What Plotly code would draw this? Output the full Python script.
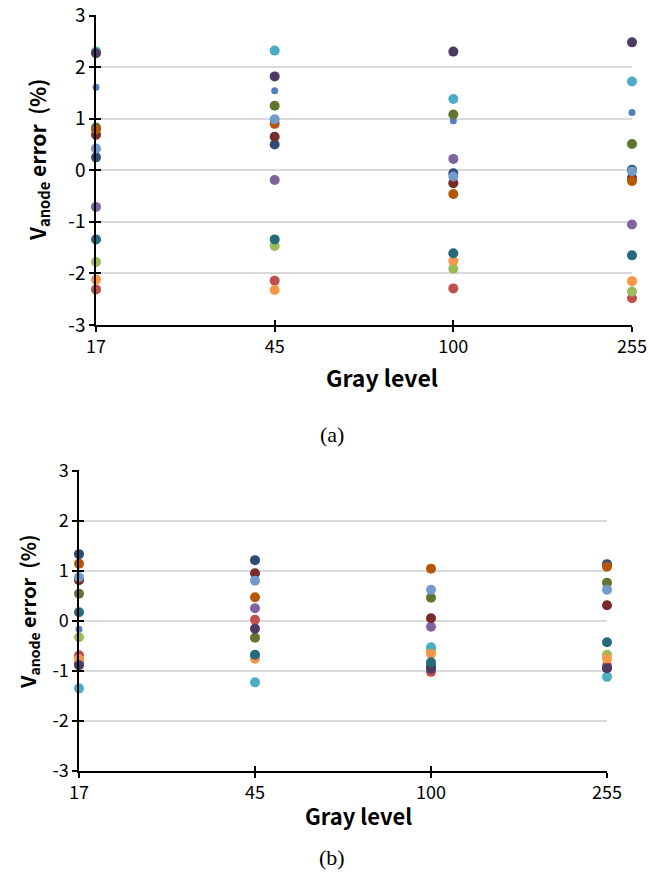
import plotly.graph_objects as go

categories = ["17", "45", "100", "255"]
y_ticks = [-3, -2, -1, 0, 1, 2, 3]
y_ticktext = ["-3", "-2", "-1", "0", "1", "2", "3"]

series_names = ["S1", "S2", "S3", "S4", "S5", "S6", "S7", "S8", "S9", "S10", "S11", "S12", "S13"]
series_colors = ["#4F81BD", "#C0504D", "#9BBB59", "#8064A2", "#4BACC6", "#F79646",
                 "#2C4D75", "#772C2A", "#5F7530", "#4D3B62", "#276A7C", "#B65708", "#729ACA"]
series_sizes = [7, 10, 10, 10, 10, 10, 10, 10, 10, 10, 10, 10, 10]

# (a) values per series at gray levels 17, 45, 100, 255
vals_a = [
    [1.61, 1.54, 0.96, 1.12],     # blue
    [-2.31, -2.14, -2.29, -2.48], # red
    [-1.78, -1.47, -1.91, -2.35], # light green
    [-0.71, -0.19, 0.22, -1.05],  # purple
    [2.30, 2.32, 1.38, 1.72],     # cyan
    [-2.12, -2.32, -1.76, -2.15], # orange
    [0.25, 0.50, -0.06, 0.01],    # navy
    [0.69, 0.65, -0.25, -0.15],   # dark red
    [0.83, 1.25, 1.08, 0.51],     # olive
    [2.27, 1.82, 2.30, 2.48],     # dark purple
    [-1.34, -1.34, -1.61, -1.65], # teal
    [0.79, 0.90, -0.46, -0.21],   # dark orange
    [0.42, 0.99, -0.12, -0.02],   # light blue
]

# (b) values per series at gray levels 17, 45, 100, 255
vals_b = [
    [-0.17, -0.12, 0.60, 0.60],   # blue
    [-0.69, 0.02, -1.02, -0.90],  # red
    [-0.33, -0.72, -0.60, -0.68], # light green
    [-0.85, 0.25, -0.12, -0.95],  # purple
    [-1.35, -1.23, -0.53, -1.12], # cyan
    [-0.77, -0.76, -0.66, -0.76], # orange
    [1.33, 1.21, -0.91, 1.13],    # navy
    [0.81, 0.95, 0.05, 0.31],     # dark red
    [0.54, -0.34, 0.46, 0.76],    # olive
    [-0.89, -0.16, -0.96, -0.95], # dark purple
    [0.17, -0.68, -0.83, -0.43],  # teal
    [1.14, 0.47, 1.04, 1.08],     # dark orange
    [0.87, 0.80, 0.62, 0.62],     # light blue
]

xpos = list(range(len(categories)))
YR = [-3, 3.01]

fig = go.Figure()
for vals, xa, ya in [(vals_a, "x", "y"), (vals_b, "x2", "y2")]:
    for name, col, sz, v in zip(series_names, series_colors, series_sizes, vals):
        fig.add_trace(go.Scatter(
            x=xpos, y=v, mode="markers", name=name, xaxis=xa, yaxis=ya,
            marker=dict(color=col, size=sz, line=dict(width=0)),
            cliponaxis=False, showlegend=False))

FONT = "Noto Sans CJK KR"

def yax(domain, anchor, fs):
    return dict(domain=domain, anchor=anchor, range=YR, tickvals=y_ticks, ticktext=y_ticktext,
                showgrid=True, gridcolor="#D9D9D9", gridwidth=1.5, zeroline=False,
                showline=True, linecolor="#000000", linewidth=1.5,
                ticks="outside", ticklen=5, tickcolor="#000000", tickwidth=1.5,
                tickfont=dict(family=FONT, size=fs, color="#000000"), automargin=False,
                ticklabeloverflow="allow")

def xax(domain, anchor, fs):
    return dict(domain=domain, anchor=anchor, range=[0, 3], tickvals=xpos, ticktext=categories,
                showgrid=False, zeroline=False, showline=True, linecolor="#000000", linewidth=1.5,
                ticks="outside", ticklen=5, tickcolor="#000000", tickwidth=1.5,
                tickfont=dict(family=FONT, size=fs, color="#000000"), automargin=False,
                ticklabeloverflow="allow")

def overlay_x(over, anchor):
    return dict(overlaying=over, anchor=anchor, range=[0, 3], tickvals=xpos, ticks="inside", ticklen=5,
                tickcolor="#000000", tickwidth=1.5, showticklabels=False, showgrid=False, zeroline=False,
                side="bottom", automargin=False)

def overlay_y(over, anchor):
    return dict(overlaying=over, anchor=anchor, range=YR, tickvals=y_ticks, ticks="inside",
                ticklen=5, tickcolor="#000000", tickwidth=1.5, showticklabels=False, showgrid=False,
                zeroline=False, side="left", automargin=False)

W, H = 649, 891
xa_dom = [96 / W, 632 / W]
ya_dom = [1 - 325 / H, 1 - 15 / H]
xb_dom = [79 / W, 607 / W]
yb_dom = [1 - 771 / H, 1 - 470 / H]

ytitle = "<b>V<sub>anode</sub> error  (%)</b>"
xtitle = "<b>Gray level</b>"

def ann(text, x, y, size, family=FONT, angle=0):
    return dict(text=text, x=x / W, y=1 - y / H, xref="paper", yref="paper", showarrow=False,
                xanchor="center", yanchor="middle", textangle=angle,
                font=dict(family=family, size=size, color="#000000"))

fig.update_layout(
    width=W, height=H, margin=dict(l=0, r=0, t=0, b=0, autoexpand=False),
    paper_bgcolor="white", plot_bgcolor="white",
    xaxis=xax(xa_dom, "y", 18), yaxis=yax(ya_dom, "x", 19),
    xaxis2=xax(xb_dom, "y2", 18), yaxis2=yax(yb_dom, "x2", 18),
    xaxis3=overlay_x("x", "y"), yaxis3=overlay_y("y", "x"),
    xaxis4=overlay_x("x2", "y2"), yaxis4=overlay_y("y2", "x2"),
    annotations=[
        ann(ytitle, 38, 160, 21, angle=-90),
        ann(xtitle, 382, 377, 23),
        ann("(a)", 332, 434, 22, family="Liberation Serif"),
        ann(ytitle, 28, 612, 20, angle=-90),
        ann(xtitle, 358, 815, 22),
        ann("(b)", 332, 857, 22, family="Liberation Serif"),
    ],
)

fig.add_trace(go.Scatter(x=[0], y=[0], xaxis="x3", yaxis="y3", mode="markers",
                         marker=dict(opacity=0), showlegend=False, hoverinfo="skip"))
fig.add_trace(go.Scatter(x=[0], y=[0], xaxis="x4", yaxis="y4", mode="markers",
                         marker=dict(opacity=0), showlegend=False, hoverinfo="skip"))

fig.write_html("out.html")
